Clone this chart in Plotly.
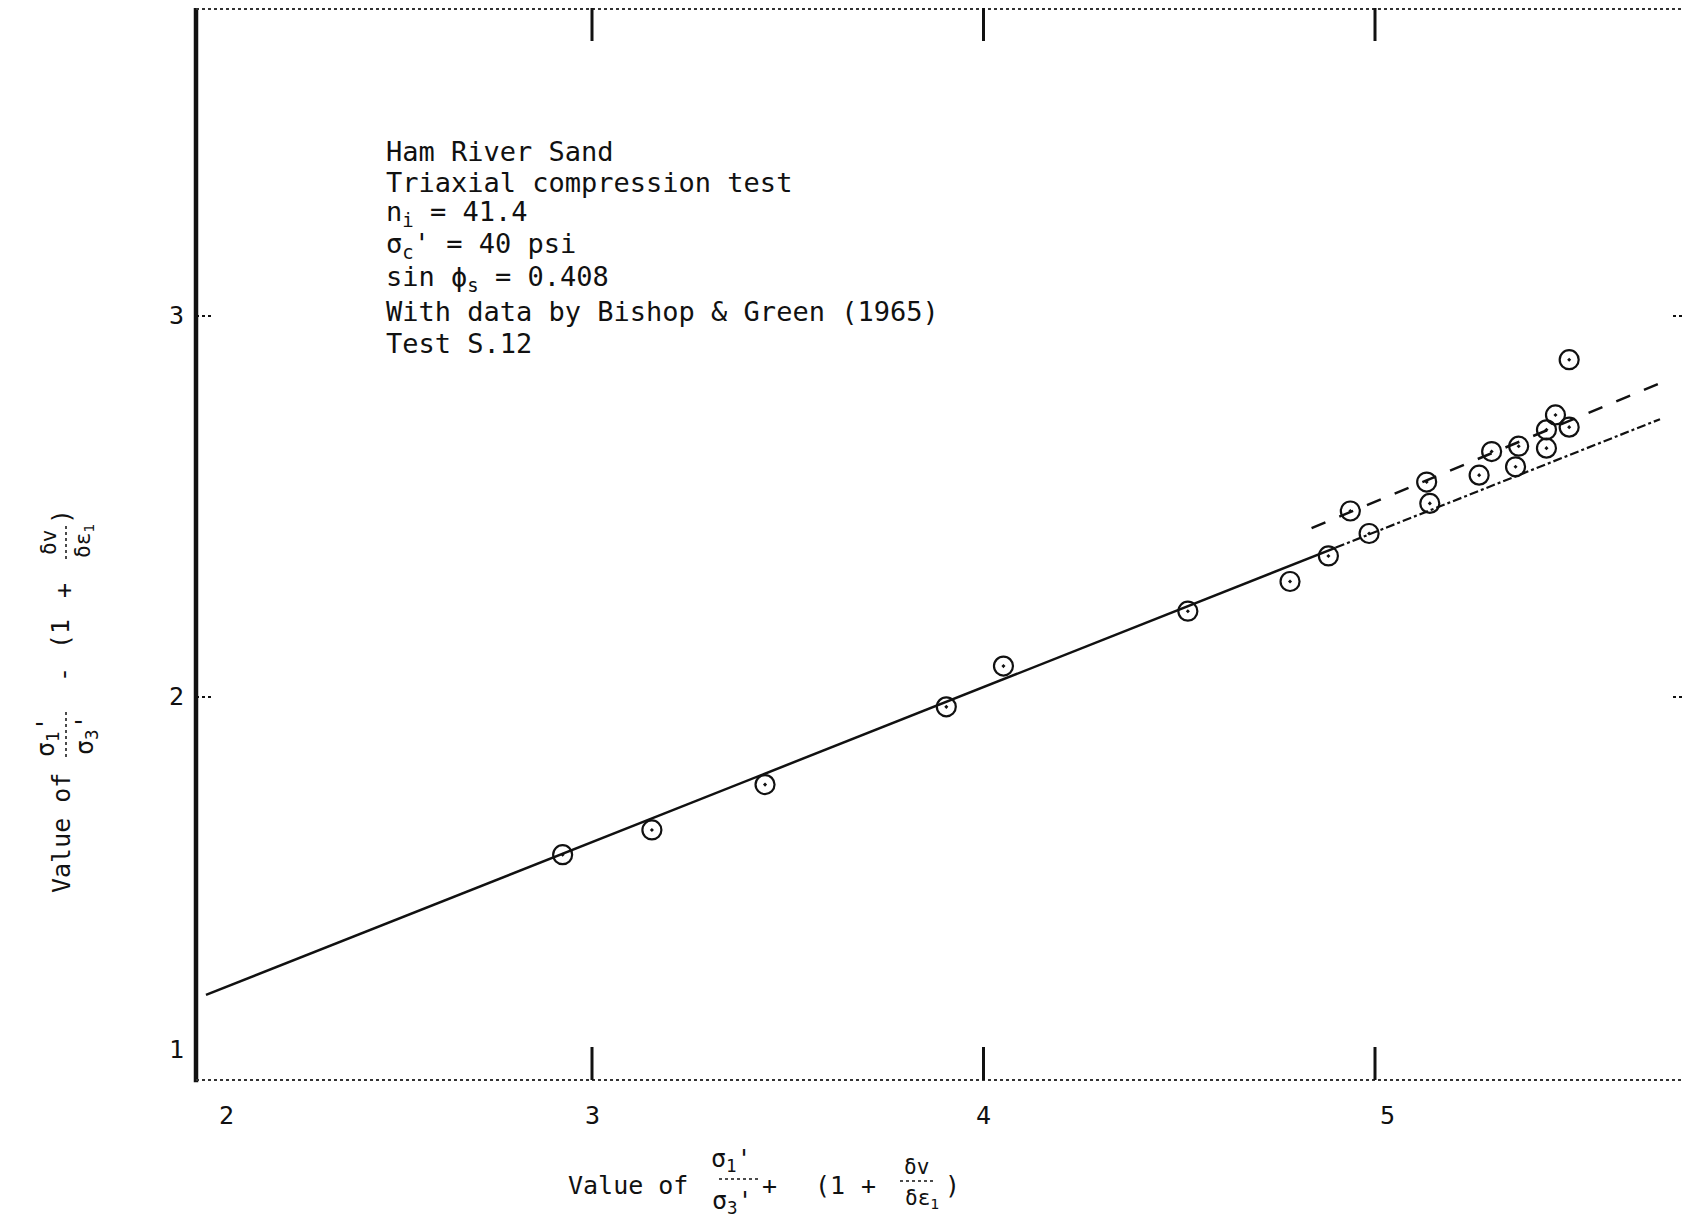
import plotly.graph_objects as go

# ---------------- data ----------------
pts_x = [2.925, 3.153, 3.442, 3.905, 4.051, 4.522, 4.783, 4.881, 4.937, 4.985,
         5.132, 5.140, 5.266, 5.298, 5.359, 5.367, 5.438, 5.438, 5.461, 5.496, 5.496]
pts_y = [1.586, 1.651, 1.770, 1.974, 2.081, 2.225, 2.303, 2.370, 2.488, 2.429,
         2.564, 2.508, 2.582, 2.644, 2.604, 2.658, 2.653, 2.701, 2.740, 2.708, 2.885]

# main fitted line (solid part, then dash-dot continuation)
main_x = [2.014, 4.90]
main_y = [1.218, 2.392]
main_ext_x = [4.90, 5.728]
main_ext_y = [2.392, 2.729]
# upper dashed line
upper_x = [4.838, 5.732]
upper_y = [2.443, 2.825]

x_ticks = [2, 3, 4, 5]
x_tick_labels = ["2", "3", "4", "5"]
y_ticks = [1, 2, 3]
y_tick_labels = ["1", "2", "3"]
x_major_marks = [3, 4, 5]
y_major_marks = [2, 3]

info_lines = [
    "Ham River Sand",
    "Triaxial compression test",
    "n<sub>i</sub> = 41.4",
    "σ<sub>c</sub>' = 40 psi",
    "sin ϕ<sub>s</sub> = 0.408",
    "With data by Bishop & Green (1965)",
    "Test S.12",
]

# ---------------- layout geometry (page pixel coordinates) ----------------
PAGE_W, PAGE_H = 1690, 1231
OFF = 8                      # default body margin of the html page
W, H = PAGE_W - OFF, PAGE_H - OFF
L, R, T, B = 196, 1688, 8, 1080
X_RANGE = [1.9885, 5.7995]
Y_RANGE = [0.9948, 3.808]
FONT = "DejaVu Sans Mono"
INK = "#111111"


def px(xp):
    return (xp - L) / (R - L)


def py(yp):
    return (B - yp) / (B - T)


fig = go.Figure()

fig.add_trace(go.Scatter(x=main_x, y=main_y, mode="lines",
                         line=dict(color=INK, width=2.5), showlegend=False))
fig.add_trace(go.Scatter(x=main_ext_x, y=main_ext_y, mode="lines",
                         line=dict(color=INK, width=2.2, dash="dashdot"), showlegend=False))
fig.add_trace(go.Scatter(x=upper_x, y=upper_y, mode="lines",
                         line=dict(color=INK, width=2.5, dash="longdash"), showlegend=False))
fig.add_trace(go.Scatter(x=pts_x, y=pts_y, mode="markers",
                         marker=dict(symbol="circle-open-dot", size=19,
                                     color=INK, line=dict(width=2.2, color=INK)),
                         showlegend=False))

shapes = []
# frame
shapes.append(dict(type="line", xref="paper", yref="paper", x0=0, x1=0, y0=-0.002, y1=1.006,
                   line=dict(color=INK, width=4.5)))
shapes.append(dict(type="line", xref="paper", yref="paper", x0=1, x1=1, y0=0, y1=1,
                   line=dict(color=INK, width=2)))
shapes.append(dict(type="line", xref="paper", yref="paper", x0=0, x1=1, y0=0.999, y1=0.999,
                   line=dict(color="#333333", width=2, dash="dot")))
shapes.append(dict(type="line", xref="paper", yref="paper", x0=0, x1=1, y0=0, y1=0,
                   line=dict(color="#333333", width=2, dash="dot")))
# x major tick marks (top and bottom, inward)
for xv in x_major_marks:
    shapes.append(dict(type="line", xref="x", yref="paper", ysizemode="pixel", yanchor=1,
                       x0=xv, x1=xv, y0=0, y1=-33, line=dict(color=INK, width=3)))
    shapes.append(dict(type="line", xref="x", yref="paper", ysizemode="pixel", yanchor=0,
                       x0=xv, x1=xv, y0=0, y1=33, line=dict(color=INK, width=3)))
# y tick marks (short, inward, dashed)
for yv in y_major_marks:
    shapes.append(dict(type="line", xref="paper", yref="y", xsizemode="pixel", xanchor=0,
                       x0=0, x1=16, y0=yv, y1=yv, line=dict(color=INK, width=2, dash="dot")))
    shapes.append(dict(type="line", xref="paper", yref="y", xsizemode="pixel", xanchor=1,
                       x0=0, x1=-16, y0=yv, y1=yv, line=dict(color=INK, width=2, dash="dot")))

annotations = []
# tick labels
x_label_shift = {2: 26, 5: 12}
for v, t in zip(x_ticks, x_tick_labels):
    annotations.append(dict(x=v, y=py(1115), xref="x", yref="paper", text=t,
                            showarrow=False, xanchor="center", yanchor="middle",
                            xshift=x_label_shift.get(v, 0),
                            font=dict(family=FONT, size=25, color=INK)))
y_label_shift = {1: 29}
for v, t in zip(y_ticks, y_tick_labels):
    annotations.append(dict(x=px(176), y=v, xref="paper", yref="y", text=t,
                            showarrow=False, xanchor="center", yanchor="middle",
                            yshift=y_label_shift.get(v, 0),
                            font=dict(family=FONT, size=25, color=INK)))

# info block
line_ys = [151, 182, 214, 246, 278, 311, 343]
for txt, yp in zip(info_lines, line_ys):
    annotations.append(dict(x=px(384), y=py(yp), xref="paper", yref="paper", text=txt,
                            showarrow=False, xanchor="left", yanchor="middle",
                            font=dict(family=FONT, size=27, color=INK)))


def ann(text, xp, yp, size=25, angle=0):
    annotations.append(dict(x=px(xp), y=py(yp), xref="paper", yref="paper", text=text,
                            showarrow=False, xanchor="center", yanchor="middle",
                            textangle=angle, font=dict(family=FONT, size=size, color=INK)))


def hbar(x0, x1, yp):
    shapes.append(dict(type="line", xref="paper", yref="paper", x0=px(x0), x1=px(x1),
                       y0=py(yp), y1=py(yp), line=dict(color=INK, width=1.5, dash="dot")))


def vbar(xp, y0, y1):
    shapes.append(dict(type="line", xref="paper", yref="paper", x0=px(xp), x1=px(xp),
                       y0=py(y0), y1=py(y1), line=dict(color=INK, width=1.5, dash="dot")))


# x-axis title: Value of σ1'/σ3' + (1 + δv/δε1)
ann("Value of", 628, 1185)
ann("σ<sub>1</sub>'", 731, 1160)
hbar(719, 758, 1179)
ann("σ<sub>3</sub>'", 732, 1202)
ann("+", 769, 1185)
ann("(1", 830, 1185)
ann("+", 868, 1185)
ann("δv", 916, 1167, size=21)
hbar(900, 934, 1181)
ann("δε<sub>1</sub>", 922, 1199, size=21)
ann(")", 953, 1185)

# y-axis title (rotated): Value of σ1'/σ3' - (1 + δv/δε1)
ann("Value of", 61, 833, angle=-90)
ann("σ<sub>1</sub>'", 47, 737, angle=-90)
vbar(66, 712, 760)
ann("σ<sub>3</sub>'", 86, 735, angle=-90)
ann("-", 63, 675, angle=-90)
ann("(1", 61, 634, angle=-90)
ann("+", 63, 591, angle=-90)
ann("δv", 49, 543, size=21, angle=-90)
vbar(66, 526, 560)
ann("δε<sub>1</sub>", 84, 541, size=21, angle=-90)
ann(")", 61, 517, angle=-90)

fig.update_layout(
    width=W, height=H,
    margin=dict(l=L - OFF, r=PAGE_W - R, t=T - OFF, b=PAGE_H - B),
    paper_bgcolor="white", plot_bgcolor="white",
    xaxis=dict(range=X_RANGE, showgrid=False, zeroline=False, showline=False,
               showticklabels=False, ticks=""),
    yaxis=dict(range=Y_RANGE, showgrid=False, zeroline=False, showline=False,
               showticklabels=False, ticks=""),
    shapes=shapes, annotations=annotations,
    showlegend=False,
)

fig.write_html("out.html")
